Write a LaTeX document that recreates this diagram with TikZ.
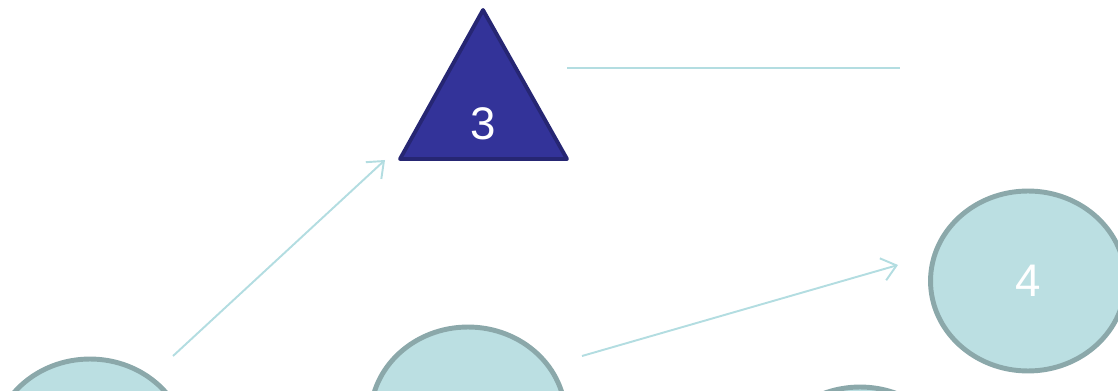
\documentclass[tikz,border=0pt]{standalone}
\usepackage{fontspec}
\setmainfont{Liberation Sans}
\usetikzlibrary{shapes.geometric,arrows.meta}
\definecolor{riemp}{HTML}{BBDFE2}
\definecolor{bordo}{HTML}{8BA8AA}
\definecolor{azzurro}{HTML}{B3DDE1}
\definecolor{blu}{HTML}{333399}
\definecolor{blubordo}{HTML}{262673}
\begin{document}
\begin{tikzpicture}[
    x=0.02cm, y=-0.02cm,
    font=\fontsize{26}{30}\selectfont,
    nodo/.style={ellipse, draw=bordo, fill=riemp, line width=2.8pt,
      minimum width=3.9cm, minimum height=3.6cm, inner sep=0pt, text=white},
    linea/.style={draw=azzurro, line width=1.1pt},
    freccia/.style={linea, -{Straight Barb[length=8pt, width=13pt]}},
  ]
  \useasboundingbox (0,0) rectangle (1118,391);
  \clip (0,0) rectangle (1118,391);

  % --- i nodi ellittici ------------------------------------------------
  \node[nodo] (n1) at (90,449) {};
  \node[nodo] (n2) at (468,417) {};
  \node[nodo] (n4) at (1028,281) {4};
  \node[nodo] (n5) at (860,477) {};

  % --- il triangolo 3 --------------------------------------------------
  \coordinate (t3a) at (483,10);
  \coordinate (t3b) at (400,159);
  \coordinate (t3c) at (567,159);
  \draw[fill=blu, draw=blubordo, line width=2.2pt, line join=round]
    (t3a) -- (t3b) -- (t3c) -- cycle;
  \node[text=white] (n3) at (483,124) {3};

  % --- collegamenti ----------------------------------------------------
  \coordinate (p1) at (173,356);
  \coordinate (q1) at (385,160);
  \coordinate (p2) at (582,356);
  \coordinate (q2) at (898,265);
  \coordinate (p3) at (567,68);
  \coordinate (q3) at (900,68);
  \draw[freccia] (p1) -- (q1);
  \draw[freccia] (p2) -- (q2);
  \draw[linea] (p3) -- (q3);

\end{tikzpicture}
\end{document}
